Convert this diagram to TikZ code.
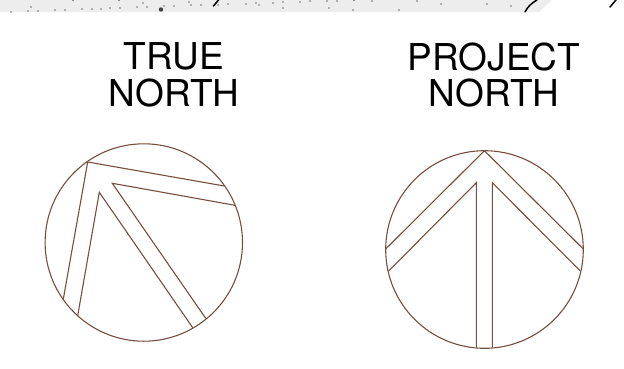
\documentclass[tikz,border=0pt]{standalone}
\usepackage{fontspec}
\setmainfont{TeX Gyre Heros}
\definecolor{northline}{RGB}{118,78,62}
\definecolor{bandgray}{RGB}{237,237,237}
\begin{document}
\begin{tikzpicture}[
  x=1pt, y=-1pt,
  title/.style={align=center, font=\fontsize{37}{36.7}\selectfont, inner sep=0pt},
  sym/.style={draw=northline, line width=1.1pt, line join=miter},
  ink/.style={black, line width=1.5pt, line cap=round},
  speck/.style={fill=black!55},
]
\useasboundingbox (0,0) rectangle (624,368);
% Band along the top edge
\fill[bandgray] (0,0) -- (552,0) -- (539,12) -- (0,12) -- cycle;
\foreach \x/\y in {11/12,31/7,28/11,38/11,55/10,65/10,73/0.5,82/9,92/9,101/9,110/8,120/8,119/0.5,
  137/7,143/3,147/7,164/6,174/6,189/2,191/5,201/5,218/5,228/4,246/4,256/3,259/5,273/3,283/2,283/8,
  300/2,310/1,327/1,337/1,354/0.5,372/1,329/8,353/10,399/10,417/1,441/4,487/4,511/6}
  \fill[speck] (\x,\y) circle (0.8pt);
\fill[black!75] (161,9.5) circle (2.2pt);
\draw[ink] (213.5,6) -- (218.5,0);
\draw[ink] (525,12) .. controls (528,6) and (532,3) .. (537,0);
\draw[ink] (610,7) -- (616,0);
% Titles
\node[title] (trueN) at (174,75) {TRUE\\NORTH};
\node[title] (projN) at (494,75) {PROJECT\\NORTH};
% True north
\draw[sym] (143.8,242.5) circle (98.7pt);
\draw[sym] (63.3,299) -- (87.7,162) -- (224.3,186);
\draw[sym] (235,205.3) -- (112.3,183.3) -- (205.7,318.3);
\draw[sym] (192.7,327.7) -- (99.3,192.3) -- (77.7,315.7);
% Project north
\draw[sym] (484.5,249.5) circle (98.8pt);
\draw[sym] (385.7,249) -- (484.4,150.7) -- (583.3,249);
\draw[sym] (388.7,271) -- (476.3,182.7) -- (476.3,347.7);
\draw[sym] (580.3,271) -- (492.3,182.7) -- (492.3,347.7);
\end{tikzpicture}
\end{document}
